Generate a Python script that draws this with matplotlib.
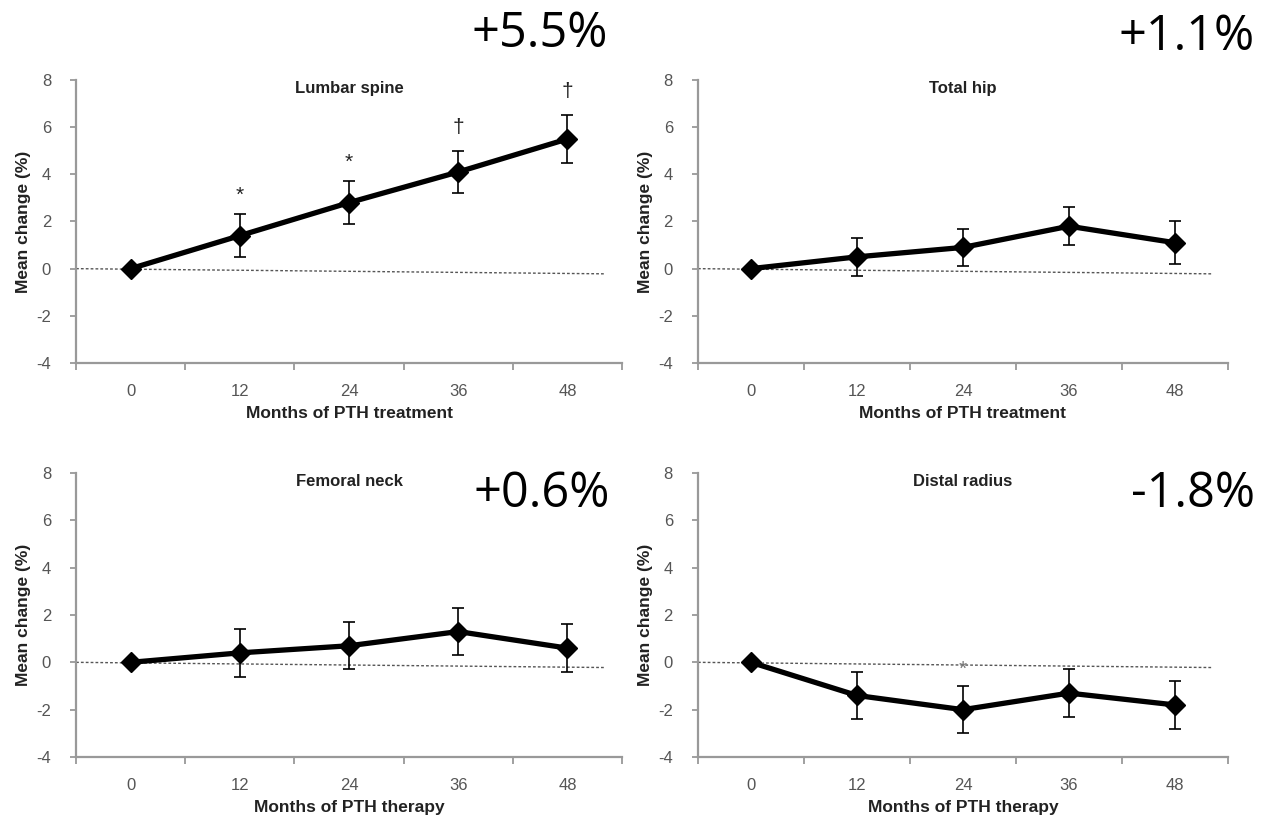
import matplotlib
matplotlib.use("Agg")
import matplotlib.pyplot as plt

plt.rcParams['font.family'] = ['Liberation Sans', 'DejaVu Sans']
plt.rcParams['axes.unicode_minus'] = False

# data
months = ["0", "12", "24", "36", "48"]
lumbar = [0, 1.4, 2.8, 4.1, 5.5]
lumbar_err = [0, 0.9, 0.9, 0.9, 1.0]
hip = [0, 0.5, 0.9, 1.8, 1.1]
hip_err = [0, 0.8, 0.8, 0.8, 0.9]
neck = [0, 0.4, 0.7, 1.3, 0.6]
neck_err = [0, 1.0, 1.0, 1.0, 1.0]
radius = [0, -1.4, -2.0, -1.3, -1.8]
radius_err = [0, 1.0, 1.0, 1.0, 1.0]

titles = ["Lumbar spine", "Total hip", "Femoral neck", "Distal radius"]
xlabels = ["Months of PTH treatment", "Months of PTH treatment",
           "Months of PTH therapy", "Months of PTH therapy"]
totals = ["+5.5%", "+1.1%", "+0.6%", "-1.8%"]

# significance marks: (index, y, symbol)
marks = [
    [(1, 3.1, "*"), (2, 4.5, "*"), (3, 6.0, "\u2020"), (4, 7.5, "\u2020")],
    [],
    [],
    [(2, -0.3, "*")],
]

series = [(lumbar, lumbar_err), (hip, hip_err), (neck, neck_err), (radius, radius_err)]

fig = plt.figure(figsize=(12.61, 8.24), dpi=100)
boxes = [
    [0.0603, 0.5595, 0.433, 0.3434],
    [0.5535, 0.5595, 0.4203, 0.3434],
    [0.0603, 0.0813, 0.433, 0.3447],
    [0.5535, 0.0813, 0.4203, 0.3447],
]
total_pos = [(0.482, 0.958), (0.995, 0.955), (0.484, 0.400), (0.995, 0.400)]

grey = "#999999"
x = list(range(len(months)))

for i, box in enumerate(boxes):
    ax = fig.add_axes(box)
    vals, err = series[i]
    # dotted reference line, slightly sloped as in the original
    ax.plot([-0.5, 4.35], [0, -0.22], color="#555555", lw=1, ls=(0, (2, 1.5)), zorder=1)
    ax.errorbar(x, vals, yerr=err, color="black", lw=3.8, marker="D", markersize=10,
                ecolor="black", elinewidth=1.2, capsize=4, capthick=1.2, zorder=3)
    for xi, yi, s in marks[i]:
        ax.text(xi, yi, s, ha="center", va="center", fontsize=15,
                color="#222222" if i == 0 else "#777777", zorder=2)

    ax.set_xlim(-0.5, 4.5)
    ax.set_ylim(-4, 8)
    ax.set_yticks([-4, -2, 0, 2, 4, 6, 8])
    ax.set_xticks(x)
    ax.set_xticklabels(months)
    ax.set_xticks([k + 0.5 for k in range(-1, 5)], minor=True)
    ax.tick_params(axis="x", which="major", length=0, pad=15, labelsize=12, colors="#555555")
    ax.tick_params(axis="x", which="minor", length=5, width=1.3, color=grey, direction="out")
    ax.tick_params(axis="y", length=4, width=1.3, color=grey, labelsize=12,
                   labelcolor="#555555", pad=14)
    for side in ["top", "right"]:
        ax.spines[side].set_visible(False)
    for side in ["left", "bottom"]:
        ax.spines[side].set_color(grey)
        ax.spines[side].set_linewidth(1.6)

    ax.text(0.5, 0.995, titles[i], transform=ax.transAxes, ha="center", va="top",
            fontsize=12, fontweight="bold", color="#222222")
    ax.set_xlabel(xlabels[i], fontsize=12.5, fontweight="bold", color="#222222", labelpad=5)
    ax.set_ylabel("Mean change (%)", fontsize=12.5, fontweight="bold", color="#222222", labelpad=4)

    fig.text(total_pos[i][0], total_pos[i][1], totals[i], ha="right", va="center",
             fontsize=35, family=["Open Sans", "DejaVu Sans"], color="black")

fig.savefig("out.png", dpi=100, facecolor="white")
